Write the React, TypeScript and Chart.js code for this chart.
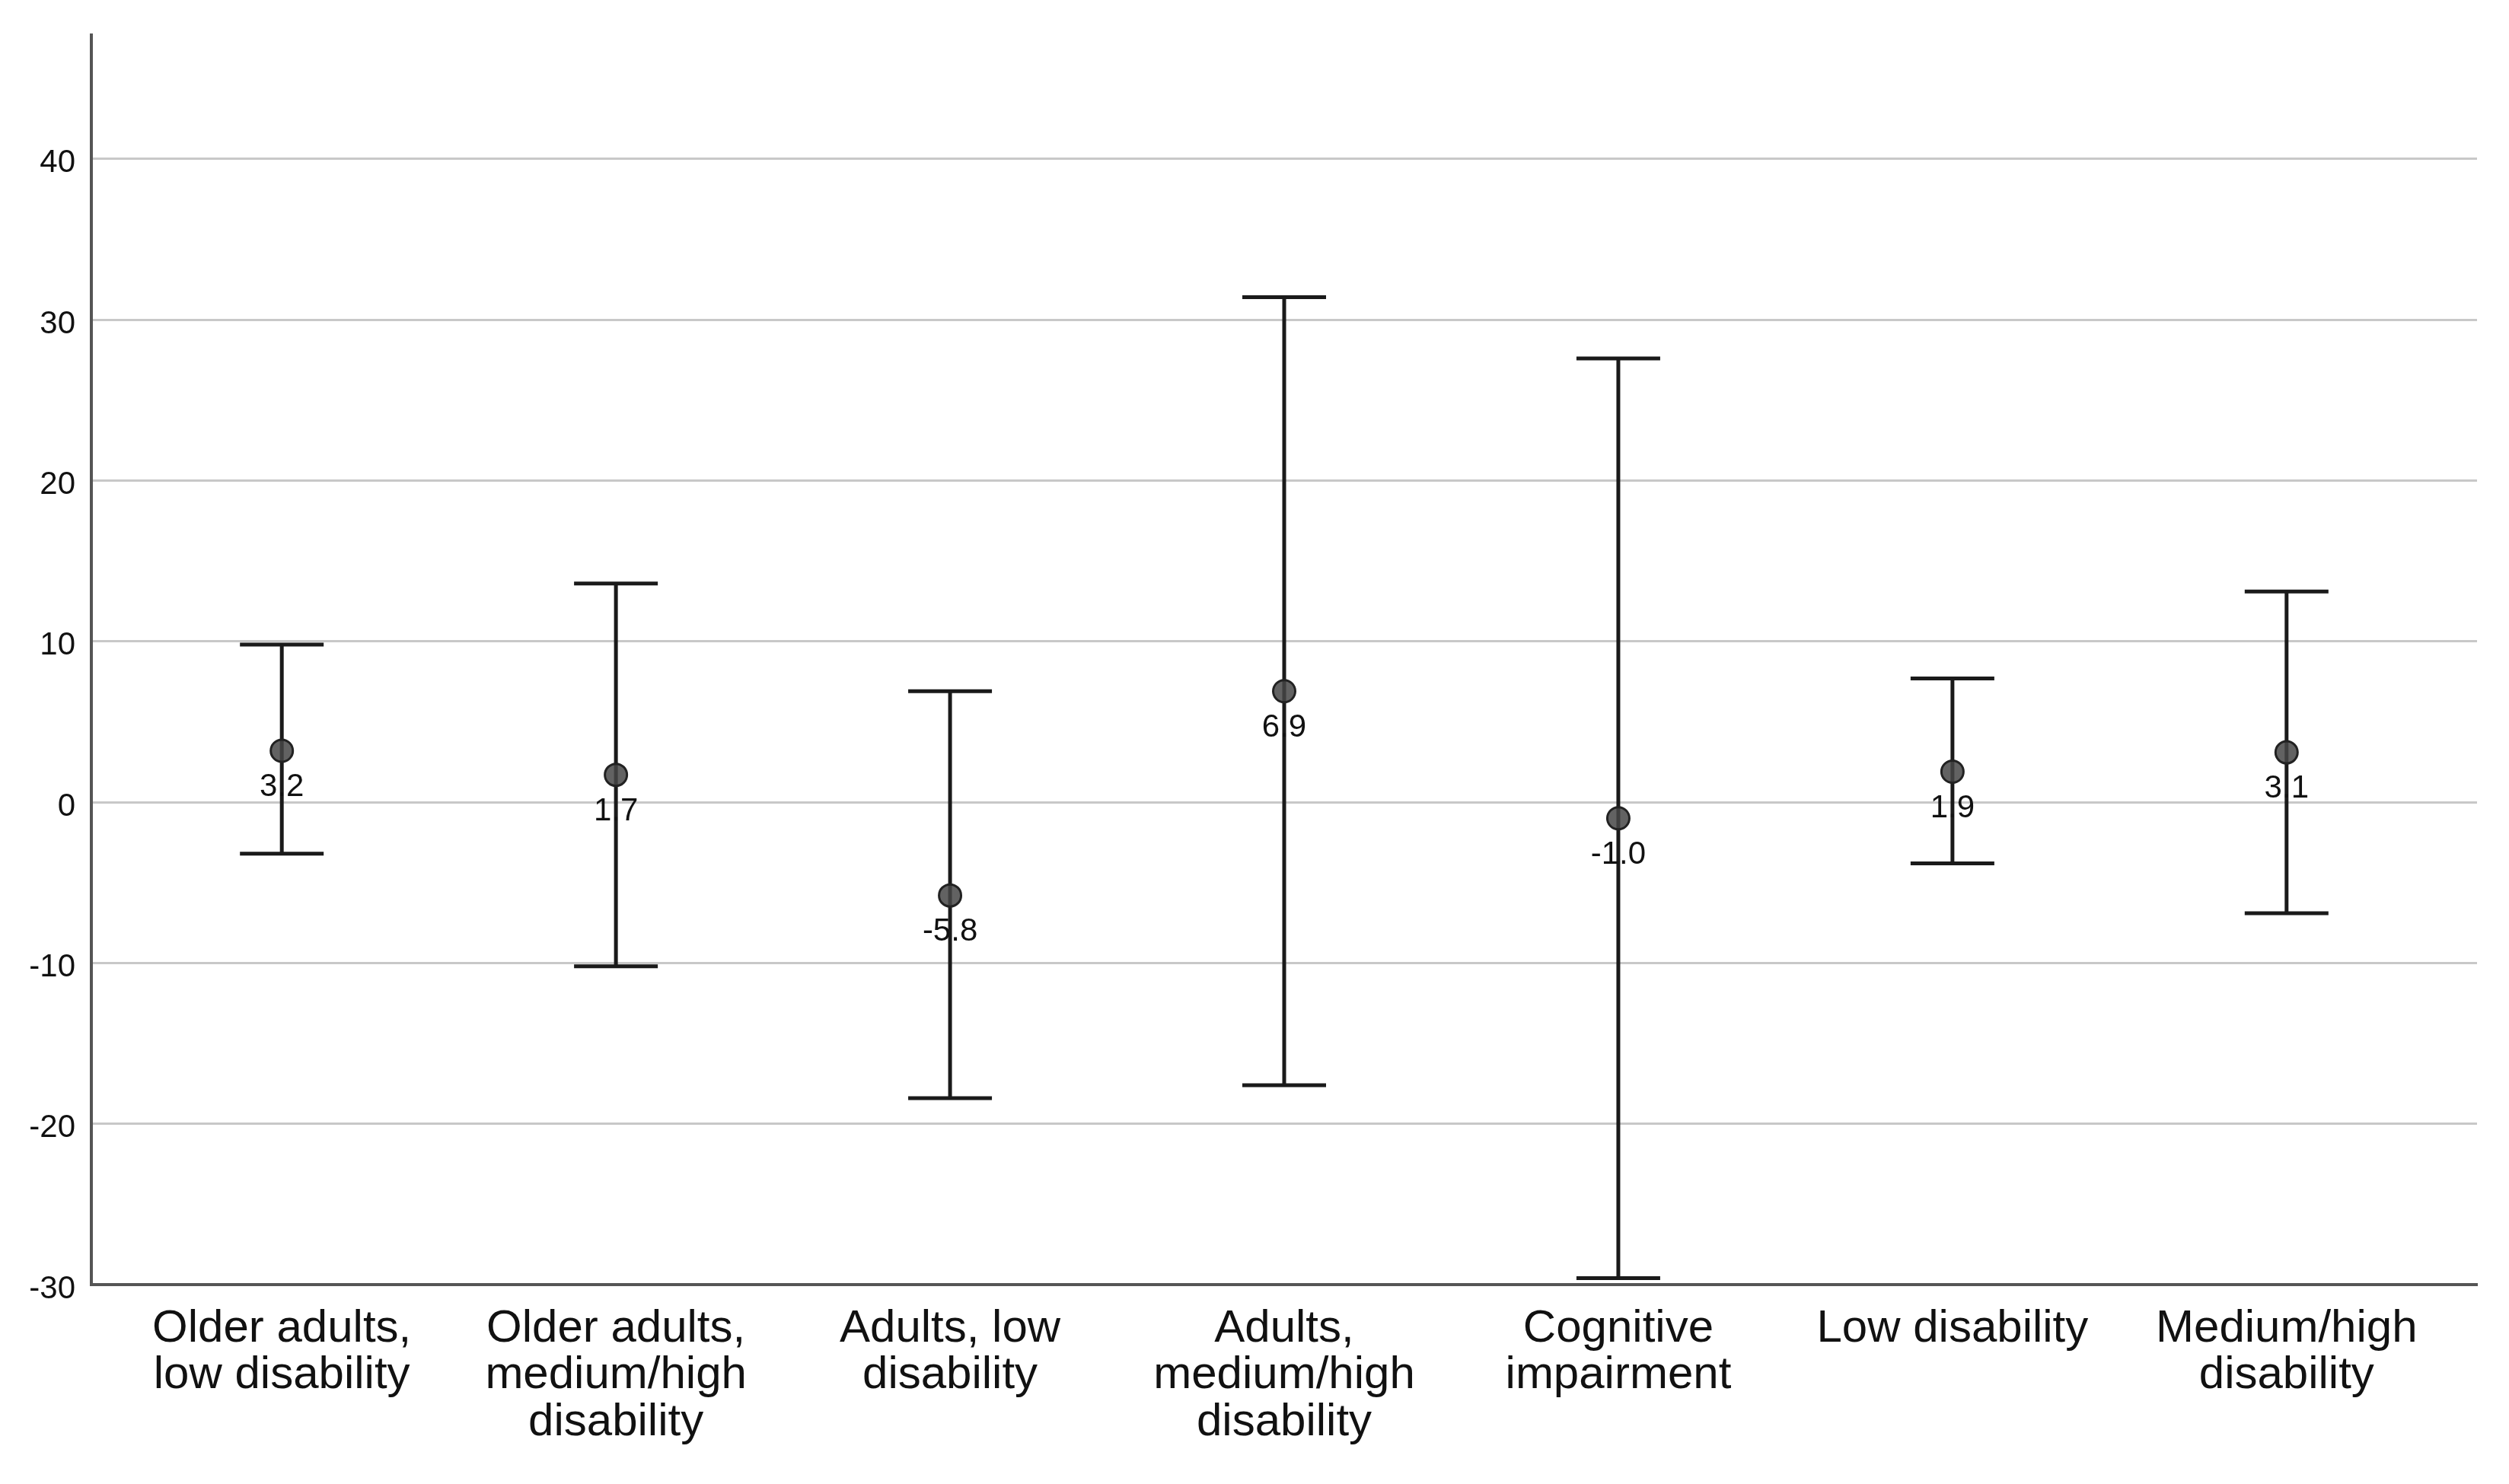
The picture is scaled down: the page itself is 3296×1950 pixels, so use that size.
import { useEffect, useRef } from 'react';
import { Chart, registerables } from 'chart.js';

Chart.register(...registerables);

// category labels, already wrapped like the original axis
const categories: string[][] = [
  ['Older adults,', 'low disability'],
  ['Older adults,', 'medium/high', 'disability'],
  ['Adults, low', 'disability'],
  ['Adults,', 'medium/high', 'disability'],
  ['Cognitive', 'impairment'],
  ['Low disability'],
  ['Medium/high', 'disability'],
];

const means = [3.2, 1.7, -5.8, 6.9, -1.0, 1.9, 3.1];
const upper = [9.8, 13.6, 6.9, 31.4, 27.6, 7.7, 13.1];
const lower = [-3.2, -10.2, -18.4, -17.6, -29.6, -3.8, -6.9];

const yTicks = [-30, -20, -10, 0, 10, 20, 30, 40];

const errorBars = {
  id: 'errorBars',
  beforeDatasetsDraw(chart: Chart) {
    const { ctx, scales } = chart;
    const x = scales.x;
    const y = scales.y;
    ctx.save();
    ctx.strokeStyle = '#1a1a1a';
    ctx.lineWidth = 5;
    means.forEach((_, i) => {
      const px = x.getPixelForValue(i);
      const top = y.getPixelForValue(upper[i]);
      const bot = y.getPixelForValue(lower[i]);
      ctx.beginPath();
      ctx.moveTo(px, top);
      ctx.lineTo(px, bot);
      ctx.moveTo(px - 55, top);
      ctx.lineTo(px + 55, top);
      ctx.moveTo(px - 55, bot);
      ctx.lineTo(px + 55, bot);
      ctx.stroke();
    });
    ctx.restore();
  },
  afterDatasetsDraw(chart: Chart) {
    const { ctx, scales } = chart;
    ctx.save();
    ctx.fillStyle = '#111';
    ctx.font = '42px "Liberation Sans", Arial, sans-serif';
    ctx.textAlign = 'center';
    ctx.textBaseline = 'top';
    means.forEach((m, i) => {
      const px = scales.x.getPixelForValue(i);
      const py = scales.y.getPixelForValue(m);
      ctx.fillText(m.toFixed(1), px, py + 27);
    });
    ctx.restore();
  },
};

const App = () => {
  const canvasRef = useRef<HTMLCanvasElement>(null);

  useEffect(() => {
    if (!canvasRef.current) return;
    document.body.style.margin = '0';

    const chart = new Chart(canvasRef.current, {
      type: 'scatter',
      data: {
        datasets: [
          {
            data: means.map((m, i) => ({ x: i, y: m })),
            pointRadius: 14.5,
            pointBackgroundColor: 'rgba(70,70,70,0.85)',
            pointBorderColor: '#222',
            pointBorderWidth: 3,
            showLine: false,
          },
        ],
      },
      options: {
        responsive: false,
        devicePixelRatio: 1,
        animation: false,
        layout: { padding: { top: 32, right: 42, left: 0, bottom: 0 } },
        plugins: {
          legend: { display: false },
          tooltip: { enabled: false },
        },
        scales: {
          x: {
            type: 'linear',
            min: -0.57,
            max: 6.57,
            afterBuildTicks: (scale: any) => {
              scale.ticks = categories.map((_, i) => ({ value: i }));
            },
            afterFit: (scale: any) => {
              scale.height = 262;
            },
            grid: { display: false, drawTicks: false },
            border: { display: true, color: '#555', width: 4 },
            ticks: {
              autoSkip: false,
              maxRotation: 0,
              minRotation: 0,
              padding: 28,
              color: '#111',
              font: { family: '"Liberation Sans", Arial, sans-serif', size: 60, lineHeight: 1.02 },
              callback: (v: any) => categories[Number(v)] ?? '',
            },
          },
          y: {
            min: -30,
            max: 47.7,
            afterBuildTicks: (scale: any) => {
              scale.ticks = yTicks.map((v) => ({ value: v }));
            },
            afterFit: (scale: any) => {
              scale.width = 120;
            },
            grid: { color: '#c8c8c8', lineWidth: 3, drawTicks: false },
            border: { display: true, color: '#555', width: 4 },
            ticks: {
              padding: 21,
              labelOffset: 6,
              color: '#111',
              font: { family: '"Liberation Sans", Arial, sans-serif', size: 42 },
            },
          },
        },
      },
      plugins: [errorBars],
    });

    return () => {
      chart.destroy();
    };
  }, []);

  return (
    <div style={{ width: 3296, height: 1950, background: '#fff' }}>
      <canvas ref={canvasRef} width={3296} height={1950} style={{ display: 'block' }} />
    </div>
  );
};

export default App;
